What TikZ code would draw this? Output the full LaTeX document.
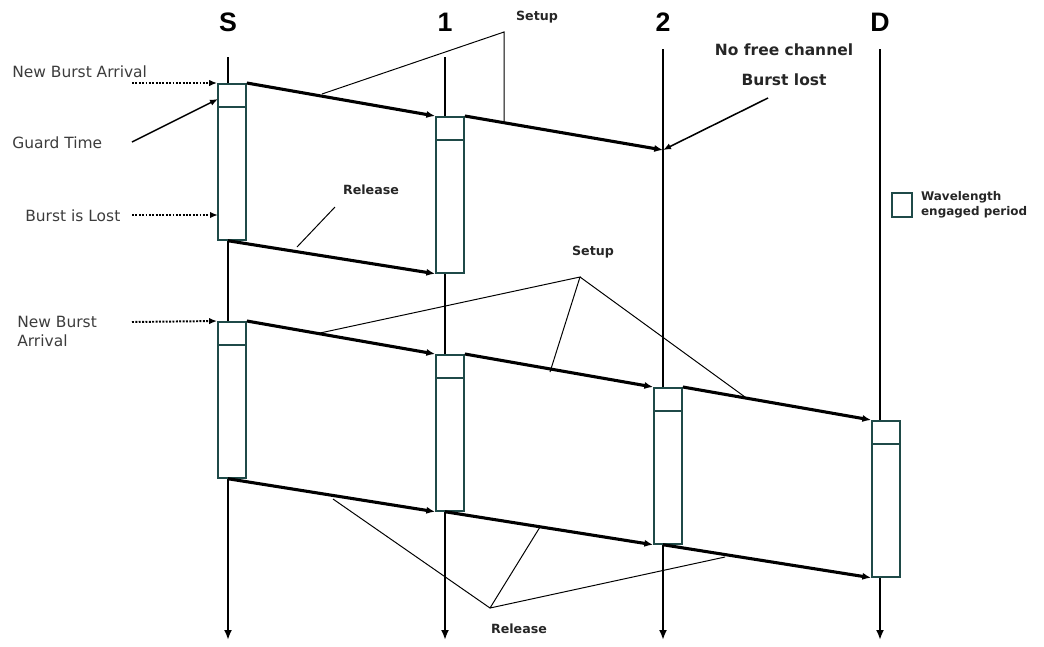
\documentclass[tikz,border=0pt]{standalone}
\usepackage{fontspec}
\setmainfont{DejaVu Sans}
\newfontfamily\axisfont{Liberation Sans}
\usetikzlibrary{arrows.meta,positioning,calc}
\definecolor{boxteal}{HTML}{1F4A48}
\definecolor{labelgray}{HTML}{3C3C3C}
\tikzset{
  nodeaxis/.style={-{Latex[length=2.5mm,width=2mm]}, line width=1.7pt},
  axislabel/.style={font=\axisfont\fontsize{19}{22}\selectfont\bfseries},
  wlbox/.style={draw=boxteal, fill=white, line width=1.2pt, rectangle, inner sep=0pt,
    minimum width=0.7cm, minimum height=3.9cm, anchor=north},
  wldiv/.style={draw=boxteal, line width=1.2pt},
  sigarrow/.style={-{Latex[length=2.2mm,width=1.8mm]}, line width=2.2pt},
  dotarrow/.style={-{Latex[length=2mm,width=1.6mm]}, densely dotted, line width=1.4pt},
  pointarrow/.style={-{Latex[length=2mm,width=1.6mm]}, line width=1.1pt},
  annot/.style={line width=0.7pt},
  sidelabel/.style={font=\fontsize{11}{14}\selectfont, text=labelgray, inner sep=0pt, anchor=west},
  phaselabel/.style={font=\fontsize{9}{11}\selectfont\bfseries, text=black!85},
  notelabel/.style={font=\fontsize{11}{14}\selectfont\bfseries, text=black!85},
}
\begin{document}
\begin{tikzpicture}[x=0.025cm, y=-0.025cm]
  \useasboundingbox (0,0) rectangle (1044,646);

  % time axes
  \coordinate (st) at (228,57);  \coordinate (sb) at (228,640);
  \coordinate (1t) at (445,57);  \coordinate (1b) at (445,640);
  \coordinate (2t) at (663,49);  \coordinate (2b) at (663,640);
  \coordinate (dt) at (880,49);  \coordinate (db) at (880,640);
  \draw[nodeaxis] (st) -- (sb);
  \draw[nodeaxis] (1t) -- (1b);
  \draw[nodeaxis] (2t) -- (2b);
  \draw[nodeaxis] (dt) -- (db);

  \node[axislabel] (lS) at (228,22) {S};
  \node[axislabel] (l1) at (445,22) {1};
  \node[axislabel] (l2) at (663,22) {2};
  \node[axislabel] (lD) at (880,22) {D};

  % wavelength engaged periods
  \node[wlbox] (bs1) at (232,83) {};
  \node[wlbox] (b11) at (450,116) {};
  \node[wlbox] (bs2) at (232,321) {};
  \node[wlbox] (b12) at (450,354) {};
  \node[wlbox] (b22) at (668,387) {};
  \node[wlbox] (bd)  at (886,420) {};
  \foreach \b in {bs1,b11,bs2,b12,b22,bd}
    \draw[wldiv] ($(\b.north west)+(0,24)$) -- ($(\b.north east)+(0,24)$);

  % first burst: blocked at node 2
  \coordinate (lost) at (663,150);
  \draw[sigarrow] (bs1.north east) -- (b11.north west);
  \draw[sigarrow] (b11.north east) -- (lost);
  \draw[sigarrow] (bs1.south -| st) -- (b11.south west);

  % second burst: reaches D
  \draw[sigarrow] (bs2.north east) -- (b12.north west);
  \draw[sigarrow] (b12.north east) -- (b22.north west);
  \draw[sigarrow] (b22.north east) -- (bd.north west);
  \draw[sigarrow] (bs2.south -| st) -- (b12.south west);
  \draw[sigarrow] (b12.south -| 1t) -- (b22.south west);
  \draw[sigarrow] (b22.south -| 2t) -- (bd.south west);

  % side labels
  \node[sidelabel] (nba1) at (12,72) {New Burst Arrival};
  \node[sidelabel] (guard) at (12,143) {Guard Time};
  \node[sidelabel] (bil) at (25,216) {Burst is Lost};
  \node[sidelabel, align=left, font=\fontsize{11}{13.5}\selectfont] (nba2) at (17,331) {New Burst\\Arrival};
  \coordinate (nba1s) at (132,83);
  \coordinate (guards) at (132,142);  \coordinate (guarde) at (218,99);
  \coordinate (bils) at (132,215);    \coordinate (bile) at (218,215);
  \coordinate (nba2s) at (132,322);
  \draw[dotarrow] (nba1s) -- (bs1.north west);
  \draw[pointarrow] (guards) -- (guarde);
  \draw[dotarrow] (bils) -- (bile);
  \draw[dotarrow] (nba2s) -- (bs2.north west);

  % blocking note
  \node[notelabel] (nofree) at (784,50) {No free channel};
  \node[notelabel] (blost) at (784,80) {Burst lost};
  \coordinate (blosts) at (768,98);
  \draw[pointarrow] (blosts) -- (lost);

  % setup / release pointers
  \node[phaselabel] (setup1) at (537,17) {Setup};
  \coordinate (su1) at (504,32);
  \coordinate (su1a) at (322,94);  \coordinate (su1b) at (504,121);
  \draw[annot] (su1a) -- (su1) -- (su1b);

  \node[phaselabel] (rel1) at (371,190) {Release};
  \coordinate (rl1a) at (335,207);  \coordinate (rl1b) at (297,247);
  \draw[annot] (rl1a) -- (rl1b);

  \node[phaselabel] (setup2) at (593,252) {Setup};
  \coordinate (su2) at (580,277);
  \coordinate (su2a) at (320,333);  \coordinate (su2b) at (550,372);  \coordinate (su2c) at (745,397);
  \draw[annot] (su2a) -- (su2) -- (su2b);
  \draw[annot] (su2) -- (su2c);

  \node[phaselabel] (rel2) at (519,629) {Release};
  \coordinate (rl2) at (490,608);
  \coordinate (rl2a) at (333,499);  \coordinate (rl2b) at (540,527);  \coordinate (rl2c) at (725,557);
  \draw[annot] (rl2a) -- (rl2) -- (rl2b);
  \draw[annot] (rl2) -- (rl2c);

  % legend
  \node[draw=boxteal, line width=1.2pt, minimum width=0.5cm, minimum height=0.6cm, inner sep=0pt] (leg) at (902,205) {};
  \node[font=\fontsize{8.5}{10.6}\selectfont\bfseries, text=black!85, align=left, inner sep=0pt, right=0.2cm of leg] (legtext) {Wavelength\\engaged period};
\end{tikzpicture}
\end{document}
